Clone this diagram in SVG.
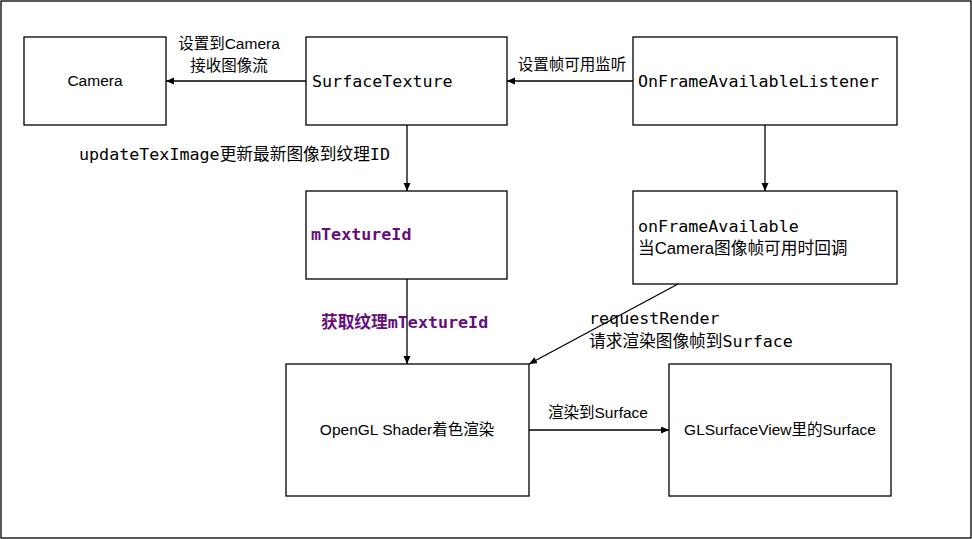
<svg xmlns="http://www.w3.org/2000/svg" width="972" height="539" viewBox="0 0 972 539">
<style>
.box{fill:#fff;stroke:#000;stroke-width:1.3}
.edge{fill:none;stroke:#000;stroke-width:1.3}
.sans{font-family:"Liberation Sans","Noto Sans CJK SC",sans-serif;font-size:15.5px;fill:#000}
.mono{font-family:"DejaVu Sans Mono","Noto Sans CJK SC",monospace;font-size:16.7px;fill:#000}
.code{font-family:"DejaVu Sans Mono","Noto Sans CJK SC",monospace;font-size:16.7px;font-weight:bold;fill:#660E7A}
.mid{text-anchor:middle}
.inl{font-family:"Liberation Sans","Noto Sans CJK SC",sans-serif;font-size:16.7px}
</style>
<defs>
<marker id="arr" markerUnits="userSpaceOnUse" markerWidth="10" markerHeight="8" refX="8" refY="3.5" orient="auto">
<path d="M0,0 L8,3.5 L0,7 z" fill="#000"/>
</marker>
</defs>
<rect x="1" y="1" width="970" height="537" fill="#fff" stroke="#000" stroke-width="1.3"/>
<g id="connectors">
<line class="edge" x1="306" y1="81" x2="166" y2="81" marker-end="url(#arr)"/>
<line class="edge" x1="633" y1="81" x2="507" y2="81" marker-end="url(#arr)"/>
<line class="edge" x1="407" y1="125" x2="407" y2="191" marker-end="url(#arr)"/>
<line class="edge" x1="765" y1="125" x2="765" y2="191" marker-end="url(#arr)"/>
<line class="edge" x1="407" y1="279" x2="407" y2="364" marker-end="url(#arr)"/>
<line class="edge" x1="678" y1="284" x2="529" y2="364" marker-end="url(#arr)"/>
<line class="edge" x1="529" y1="430" x2="669" y2="430" marker-end="url(#arr)"/>
<text class="sans mid" x="229" y="49">设置到Camera</text>
<text class="sans mid" x="229" y="71">接收图像流</text>
<text class="sans mid" x="572" y="70">设置帧可用监听</text>
<text class="mono" x="79" y="160">updateTexImage更新最新图像到纹理ID</text>
<text class="code" x="321" y="328">获取纹理mTextureId</text>
<text class="mono" x="589" y="324">requestRender</text>
<text class="mono" x="589" y="347">请求渲染图像帧到Surface</text>
<text class="sans mid" x="598" y="418">渲染到Surface</text>
</g>
<g id="camera">
<rect class="box" x="24" y="37" width="142" height="88"/>
<text class="sans mid" x="95" y="86">Camera</text>
</g>
<g id="surfaceTexture">
<rect class="box" x="306" y="37" width="201" height="88"/>
<text class="mono" x="312" y="87">SurfaceTexture</text>
</g>
<g id="listener">
<rect class="box" x="633" y="37" width="264" height="88"/>
<text class="mono" x="638" y="87">OnFrameAvailableListener</text>
</g>
<g id="mTextureId">
<rect class="box" x="306" y="191" width="201" height="88"/>
<text class="code" x="311" y="240">mTextureId</text>
</g>
<g id="onFrameAvailable">
<rect class="box" x="633" y="191" width="264" height="93"/>
<text class="mono" x="638" y="232">onFrameAvailable</text>
<text class="mono" x="638" y="254">当<tspan class="inl">Camera</tspan>图像帧可用时回调</text>
</g>
<g id="opengl">
<rect class="box" x="286" y="364" width="243" height="132"/>
<text class="sans mid" x="407" y="435">OpenGL Shader着色渲染</text>
</g>
<g id="glsurface">
<rect class="box" x="669" y="364" width="222" height="132"/>
<text class="sans mid" x="780" y="435">GLSurfaceView里的Surface</text>
</g>
</svg>
